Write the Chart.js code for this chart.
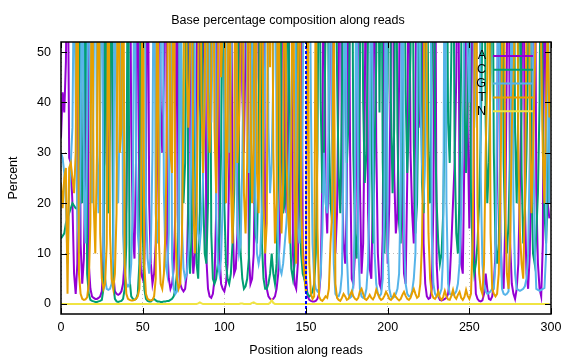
<!DOCTYPE html>
<html>
<head>
<meta charset="utf-8">
<script src="https://cdn.jsdelivr.net/npm/chart.js@4.4.0/dist/chart.umd.min.js"></script>
<style>
  html, body { margin: 0; padding: 0; background: #fff; }
</style>
</head>
<body>
<canvas id="baseChart" width="576" height="360"></canvas>
<script>
// Data (positions 0..299, percent per base)
const baseLabels = ["A", "C", "G", "T", "N"];
const baseColors = ["#9400d3", "#009e73", "#56b4e9", "#e69f00", "#f0e442"];
const xTicks = [0, 50, 100, 150, 200, 250, 300];
const yTicks = [0, 10, 20, 30, 40, 50];
const boundaryX = 150; // read 1 / read 2 junction

const seriesA = [
  33, 42, 38, 48, 78, 29, 28, 20, 6, 2,
  8, 70, 12, 4, 9, 30, 88, 8, 3, 1.5,
  1.2, 1, 1, 1.2, 1.5, 2.5, 9, 82, 28, 24,
  45, 86, 6, 2.5, 2, 1.8, 2, 2.5, 4, 9,
  20, 45, 90, 35, 14, 9, 30, 85, 15, 6,
  5, 8, 25, 88, 20, 8, 4, 6, 12, 30,
  84, 40, 30, 45, 90, 12, 5, 3, 4, 7,
  18, 80, 10, 4, 3, 2.5, 3, 6, 22, 86,
  14, 6, 10, 38, 92, 40, 35, 50, 88, 9,
  3, 1.5, 1.2, 2, 5, 18, 85, 11, 4, 3,
  2.5, 4, 8, 28, 90, 18, 6, 7, 14, 36,
  88, 42, 30, 52, 86, 10, 4, 5, 10, 33,
  90, 45, 38, 55, 92, 8, 3, 1.5, 1, 0.8,
  1, 1.5, 3, 6, 14, 40, 88, 30, 18, 36,
  60, 92, 10, 4, 3, 8, 30, 85, 12, 5,
  5, 1.5, 0.8, 0.6, 0.5, 0.5, 0.6, 1, 2, 6,
  25, 86, 22, 14, 30, 60, 88, 20, 10, 18,
  45, 90, 26, 12, 8, 20, 85, 30, 5, 4,
  10, 36, 88, 24, 6, 12, 40, 90, 18, 7,
  5, 22, 86, 32, 10, 4, 3, 14, 88, 28,
  8, 20, 50, 84, 26, 14, 18, 44, 90, 22,
  6, 4, 25, 86, 30, 18, 12, 38, 88, 40,
  35, 82, 12, 4, 1.5, 1, 1.2, 3, 20, 84,
  8, 1.5, 0.8, 0.7, 0.8, 1, 1.2, 2, 5, 12,
  20, 28, 45, 86, 22, 8, 6, 30, 88, 35,
  15, 40, 85, 10, 2, 1, 0.6, 0.5, 0.7, 2,
  6, 3, 1, 0.8, 1.5, 4, 10, 25, 88, 14,
  5, 3, 16, 50, 86, 12, 4, 2, 1, 3,
  8, 24, 40, 88, 20, 6, 3, 10, 28, 55,
  90, 22, 8, 3, 1.5, 12, 86, 30, 20, 17
];

const seriesC = [
  13, 13.5, 14, 16, 17, 18, 19, 20, 19.5, 19,
  19, 18, 75, 20, 30, 85, 6, 2, 0.8, 0.6,
  0.5, 0.4, 0.4, 0.5, 0.6, 0.8, 3, 80, 20, 18,
  35, 88, 4, 1, 0.5, 0.4, 0.5, 0.6, 1, 3,
  12, 85, 5, 1.5, 1, 0.8, 1, 2, 8, 82,
  15, 3, 1, 0.6, 0.5, 0.5, 0.8, 1, 0.7, 0.5,
  0.5, 0.4, 0.4, 0.5, 0.5, 0.6, 0.6, 0.8, 1, 1.5,
  3, 6, 15, 80, 35, 20, 28, 82, 12, 6,
  14, 78, 30, 8, 5, 18, 84, 22, 10, 8,
  20, 80, 14, 5, 4, 5, 8, 14, 30, 86,
  20, 8, 5, 4, 6, 12, 22, 40, 88, 25,
  10, 5, 3, 3.5, 5, 9, 25, 82, 30, 14,
  12, 30, 85, 12, 5, 3, 3, 4, 6, 10,
  6, 4, 8, 25, 86, 35, 18, 20, 40, 84,
  16, 7, 5, 8, 20, 80, 24, 10, 6, 5,
  3, 2, 1.5, 1.8, 2.5, 4, 10, 30, 84, 40,
  22, 30, 55, 88, 35, 20, 16, 40, 90, 46,
  25, 18, 40, 86, 42, 28, 36, 60, 92, 30,
  14, 9, 20, 45, 88, 40, 24, 30, 55, 90,
  36, 12, 30, 48, 86, 38, 88, 28, 10, 24,
  44, 90, 40, 22, 35, 88, 34, 16, 12, 30,
  86, 42, 26, 36, 50, 90, 32, 14, 20, 45,
  88, 24, 18, 36, 86, 30, 20, 45, 90, 35,
  20, 12, 8, 10, 18, 40, 88, 36, 28, 50,
  86, 30, 14, 10, 22, 48, 90, 40, 26, 42,
  88, 22, 10, 6, 8, 12, 20, 34, 55, 86,
  36, 20, 28, 46, 88, 30, 12, 8, 12, 32,
  84, 28, 14, 10, 16, 30, 48, 90, 34, 20,
  40, 86, 26, 12, 18, 30, 50, 88, 24, 10,
  8, 14, 22, 40, 86, 35, 18, 12, 22, 40
];

const seriesG = [
  30, 29, 26, 20, 8, 22, 28, 35, 70, 40,
  18, 10, 30, 82, 25, 12, 35, 88, 30, 20,
  45, 86, 30, 18, 40, 84, 12, 5, 3, 2.8,
  3, 4, 10, 80, 30, 20, 38, 86, 14, 6,
  4, 3.5, 4, 8, 20, 82, 28, 14, 10, 18,
  40, 88, 20, 9, 6, 10, 30, 85, 18, 12,
  20, 45, 90, 22, 8, 6, 14, 84, 9, 3,
  2, 2.5, 8, 82, 16, 7, 5, 6, 10, 16,
  35, 90, 42, 20, 14, 12, 16, 25, 38, 50,
  86, 44, 36, 55, 90, 18, 8, 6, 9, 20,
  42, 88, 40, 30, 45, 60, 92, 35, 15, 10,
  12, 28, 55, 88, 40, 26, 32, 50, 90, 20,
  10, 8, 10, 18, 30, 48, 86, 35, 22, 28,
  46, 88, 30, 12, 7, 6, 8, 12, 16, 22,
  30, 40, 55, 90, 30, 15, 12, 18, 40, 85,
  88, 50, 85, 40, 12, 5, 3, 2.5, 3, 6,
  14, 30, 20, 18, 40, 84, 30, 8, 2, 1.5,
  1.5, 2.5, 6, 30, 88, 10, 2, 1.2, 1.5, 4,
  20, 86, 12, 3, 1.5, 1.2, 1.5, 3, 8, 25,
  90, 30, 10, 4, 2, 1.5, 2, 5, 20, 84,
  12, 3, 1.5, 1.2, 1.4, 2, 3, 6, 22, 88,
  14, 4, 2, 1.5, 1.5, 2.5, 5, 10, 35, 86,
  40, 28, 20, 30, 52, 70, 88, 14, 4, 2,
  1.5, 1.5, 2, 3, 10, 86, 20, 4, 2, 1.8,
  1.8, 2, 2.5, 4, 8, 18, 34, 60, 88, 50,
  40, 66, 86, 35, 45, 58, 90, 25, 8, 4,
  2.5, 2, 2.2, 2.5, 3, 3, 8, 40, 86, 14,
  3, 2, 1.8, 2, 2.5, 15, 88, 20, 6, 3,
  2.8, 2.6, 2.8, 3, 3.5, 5, 10, 30, 86, 40,
  12, 3, 2.8, 2.6, 2.8, 3, 3.2, 10, 84, 20
];

const seriesT = [
  24, 19, 25, 27, 2, 27, 28, 25, 22, 30,
  82, 6, 2, 1, 0.8, 0.9, 1.3, 4, 16, 84,
  20, 10, 30, 85, 14, 5, 3, 4, 12, 80,
  14, 5, 3, 6, 18, 88, 30, 35, 86, 8,
  2, 1, 0.8, 0.7, 0.7, 0.8, 1, 1.5, 3, 15,
  84, 8, 2, 1, 0.8, 0.7, 0.8, 1.5, 5, 80,
  12, 4, 3, 6, 15, 40, 86, 30, 26, 88,
  14, 5, 3, 4, 12, 38, 90, 45, 35, 50,
  88, 20, 10, 18, 44, 92, 40, 26, 42, 90,
  38, 30, 46, 90, 35, 22, 40, 88, 45, 55,
  90, 20, 33, 86, 24, 12, 30, 84, 28, 36,
  50, 88, 22, 14, 28, 86, 40, 20, 32, 90,
  26, 18, 44, 92, 20, 10, 16, 85, 47, 88,
  30, 12, 20, 86, 28, 14, 24, 90, 30, 18,
  12, 33, 84, 22, 8, 40, 88, 20, 9, 6,
  2, 80, 8, 2, 1, 1.5, 70, 15, 1.5, 0.8,
  0.6, 1, 1.5, 1.2, 3, 12, 18, 60, 4, 1.2,
  0.8, 0.6, 1.2, 2, 1.5, 0.8, 1, 1.8, 2.5, 1.5,
  1, 0.8, 1.2, 2.5, 3, 2, 1, 0.8, 1.2, 1.8,
  1.2, 0.9, 1.5, 2.8, 2, 1.2, 0.8, 1, 1.6, 2.4,
  1.8, 1, 0.8, 1.2, 2, 1.4, 1, 0.7, 1, 1.8,
  2.4, 1.6, 1, 0.8, 1.2, 2.2, 3, 2, 1.2, 1.5,
  4, 12, 35, 88, 40, 14, 5, 2, 1.2, 1,
  1.5, 2.5, 1.2, 0.8, 1.4, 2.6, 1.5, 0.9, 0.8, 1.6,
  2.8, 1.4, 1, 1.8, 2.4, 1.2, 0.8, 1.4, 2.8, 1.6,
  1, 2, 12, 40, 86, 20, 6, 3, 2, 8,
  30, 45, 88, 14, 3, 2, 1.5, 2, 6, 22,
  50, 86, 18, 6, 3, 12, 35, 44, 60, 90,
  30, 14, 8, 5, 20, 55, 88, 40, 18, 30,
  45, 60, 70, 88, 50, 30, 20, 40, 55, 37
];

const seriesN = [
  0, 0, 0, 0, 0, 0, 0, 0, 0, 0, 0, 0, 0, 0, 0, 0, 0, 0, 0, 0, 0, 0, 0, 0, 0, 0, 0, 0, 0, 0,
  0, 0, 0, 0, 0, 0, 0, 0, 0, 0, 0, 0, 0, 0, 0, 0, 0, 0, 0, 0, 0, 0, 0, 0, 0, 0, 0, 0, 0, 0,
  0, 0, 0, 0, 0, 0, 0, 0, 0, 0, 0, 0, 0, 0, 0, 0, 0, 0, 0, 0, 0, 0, 0, 0, 0.1, 0.3, 0.1, 0, 0, 0,
  0, 0, 0, 0, 0, 0, 0, 0, 0, 0, 0, 0, 0, 0, 0, 0, 0, 0, 0, 0, 0.1, 0.1, 0, 0, 0, 0, 0, 0.2, 0.3, 0.1,
  0, 0, 0, 0, 0, 0, 0, 0, 0.2, 0.8, 0.2, 0, 0, 0, 0, 0, 0, 0, 0, 0, 0, 0, 0, 0, 0, 0, 0, 0, 0, 0,
  0, 0, 0, 0, 0, 0, 0, 0, 0, 0, 0, 0, 0, 0, 0, 0, 0, 0, 0, 0, 0, 0, 0, 0, 0, 0, 0, 0, 0, 0,
  0, 0, 0, 0, 0, 0, 0, 0, 0, 0, 0, 0, 0, 0, 0, 0, 0, 0, 0, 0, 0, 0, 0, 0, 0, 0, 0, 0, 0, 0,
  0, 0, 0, 0, 0, 0, 0, 0, 0, 0, 0, 0, 0, 0, 0, 0, 0, 0, 0, 0, 0, 0, 0, 0, 0, 0, 0, 0, 0, 0,
  0, 0, 0, 0, 0, 0, 0, 0, 0, 0, 0, 0, 0, 0, 0, 0, 0, 0, 0, 0, 0, 0, 0, 0, 0, 0, 0, 0, 0, 0,
  0, 0, 0, 0, 0, 0, 0, 0, 0, 0, 0, 0, 0, 0, 0, 0, 0, 0, 0, 0, 0, 0, 0, 0, 0, 0, 0, 0, 0, 0
];

const positions = seriesA.map((_, i) => i);
const allSeries = [seriesA, seriesC, seriesG, seriesT, seriesN];

const FONT = "'Liberation Sans', Arial, Helvetica, sans-serif";

// gnuplot-like frame with inward ticks on all four sides
const framePlugin = {
  id: "frame",
  afterDraw(chart) {
    const { ctx, chartArea: a, scales } = chart;
    ctx.save();
    ctx.strokeStyle = "#000";
    ctx.lineWidth = 1;
    ctx.beginPath();
    yTicks.forEach(v => {
      const y = Math.round(scales.y.getPixelForValue(v)) + 0.5;
      ctx.moveTo(a.left, y); ctx.lineTo(a.left + 6, y);
      ctx.moveTo(a.right, y); ctx.lineTo(a.right - 6, y);
    });
    xTicks.forEach(v => {
      const x = Math.round(scales.x.getPixelForValue(v)) + 0.5;
      ctx.moveTo(x, a.bottom); ctx.lineTo(x, a.bottom - 6);
      ctx.moveTo(x, a.top); ctx.lineTo(x, a.top + 6);
    });
    ctx.stroke();
    ctx.lineWidth = 1.5;
    ctx.strokeRect(a.left, a.top, a.right - a.left, a.bottom - a.top);
    ctx.restore();
  }
};

// key in the top right corner, drawn the way gnuplot does it
const keyPlugin = {
  id: "key",
  afterDatasetsDraw(chart) {
    const { ctx, chartArea: a } = chart;
    ctx.save();
    ctx.font = "12.5px " + FONT;
    ctx.textAlign = "right";
    ctx.textBaseline = "middle";
    baseLabels.forEach((lab, i) => {
      const y = a.top + 14 + i * 13.8;
      ctx.fillStyle = "#000";
      ctx.fillText(lab, a.right - 65, y);
      ctx.strokeStyle = baseColors[i];
      ctx.lineWidth = 2;
      ctx.beginPath();
      ctx.moveTo(a.right - 58, y);
      ctx.lineTo(a.right - 18, y);
      ctx.stroke();
    });
    ctx.restore();
  }
};

const datasets = baseLabels.map((lab, i) => ({
  label: lab,
  data: positions.map((x, j) => ({ x: x, y: allSeries[i][j] })),
  borderColor: baseColors[i],
  backgroundColor: baseColors[i],
  borderWidth: 2,
  pointRadius: 0,
  tension: 0,
  order: baseLabels.length - i
}));

datasets.push({
  label: "",
  data: [{ x: boundaryX, y: -2 }, { x: boundaryX, y: 52 }],
  borderColor: "#0000ff",
  borderWidth: 2,
  borderDash: [3, 2],
  pointRadius: 0,
  order: 0
});

new Chart(document.getElementById("baseChart").getContext("2d"), {
  type: "line",
  data: { datasets: datasets },
  plugins: [keyPlugin, framePlugin],
  options: {
    responsive: false,
    animation: false,
    devicePixelRatio: 1,
    layout: { padding: 0 },
    plugins: {
      legend: { display: false },
      tooltip: { enabled: false },
      title: {
        display: true,
        text: "Base percentage composition along reads",
        color: "#000",
        font: { family: FONT, size: 12.5, weight: "normal" },
        padding: { top: 13, bottom: 14 }
      }
    },
    scales: {
      x: {
        type: "linear",
        min: 0,
        max: 300,
        afterBuildTicks: s => { s.ticks = xTicks.map(v => ({ value: v })); },
        afterFit: s => { s.height = 46; },
        ticks: { color: "#000", font: { family: FONT, size: 12.5 }, padding: 6, maxRotation: 0, autoSkip: false },
        grid: { color: "#bdbdbd", lineWidth: 1, drawTicks: false },
        border: { display: false, dash: [1, 3] },
        title: {
          display: true,
          text: "Position along reads",
          color: "#000",
          font: { family: FONT, size: 12.5 },
          padding: { top: 0, bottom: 2 }
        }
      },
      y: {
        min: -2,
        max: 52,
        afterBuildTicks: s => { s.ticks = yTicks.map(v => ({ value: v })); },
        afterFit: s => { s.width = 61; },
        ticks: { color: "#000", font: { family: FONT, size: 12.5 }, padding: 10 },
        grid: { color: "#bdbdbd", lineWidth: 1, drawTicks: false },
        border: { display: false, dash: [1, 3] },
        title: {
          display: true,
          text: "Percent",
          color: "#000",
          font: { family: FONT, size: 12.5 },
          padding: { top: 6, bottom: 0 }
        }
      },
      // empty right margin so the title stays centred on the page
      yRight: {
        position: "right",
        display: true,
        min: -2,
        max: 52,
        afterFit: s => { s.width = 25; },
        ticks: { display: false },
        grid: { display: false, drawTicks: false },
        border: { display: false }
      }
    }
  }
});
</script>
</body>
</html>
